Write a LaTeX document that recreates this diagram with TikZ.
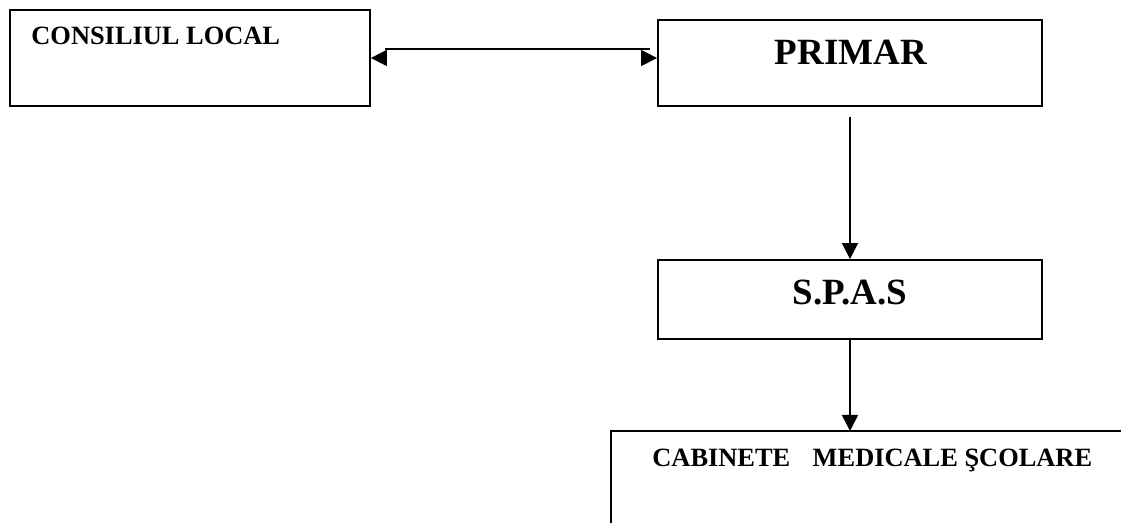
\documentclass[tikz,border=0pt]{standalone}
\usepackage{fontspec}
\setmainfont{Liberation Serif}
\usetikzlibrary{arrows.meta,calc}

\tikzset{
  box/.style={draw,line width=0.9pt,inner sep=0pt,rectangle},
  txt/.style={inner sep=0pt,font=\bfseries},
  tip/.style={-{Triangle[length=8pt,width=8pt]},line width=0.8pt}
}

\begin{document}
\begin{tikzpicture}[x=0.5pt,y=-0.5pt]
      \useasboundingbox (0,0) rectangle (1121,523);
      % boxes
      \node[box,minimum width=180pt,minimum height=48pt] (cl) at (190,58) {};
      \node[box,minimum width=192pt,minimum height=43pt] (pr) at (850,63) {};
      \node[box,minimum width=192pt,minimum height=39.5pt] (sp) at (850,299.5) {};
      \coordinate (cab) at (850,431);
      \draw[line width=0.9pt] (1121,431) -- (611,431) -- (611,523);
      % texts
      \node[txt,anchor=base west,font=\fontsize{13.2}{15}\bfseries] (tcl) at (31,45) {CONSILIUL LOCAL};
      \node[txt,anchor=base,font=\fontsize{18.5}{22}\bfseries] (tpr) at (851,65) {PRIMAR};
      \node[txt,anchor=base,font=\fontsize{18.5}{22}\bfseries] (tsp) at (850,305) {S.P.A.S};
      \node[txt,anchor=base west,font=\fontsize{13.2}{15}\bfseries] (tcab) at (652,467) {CABINETE\hspace{0.6em} MEDICALE ŞCOLARE};
      % double arrow
      \draw[line width=0.8pt] ($(cl.east)+(14,-9)$) -- ($(pr.west |- cl.east)+(-7,-9)$);
      \draw[tip] ($(cl.east)+(15,0)$) -- (cl.east);
      \draw[tip] ($(pr.west |- cl.east)+(-15,0)$) -- (pr.west |- cl.east);
      % down arrows
      \draw[tip] ($(pr.south)+(0,10)$) -- (sp.north);
      \draw[tip] (sp.south) -- (cab);
\end{tikzpicture}
\end{document}
